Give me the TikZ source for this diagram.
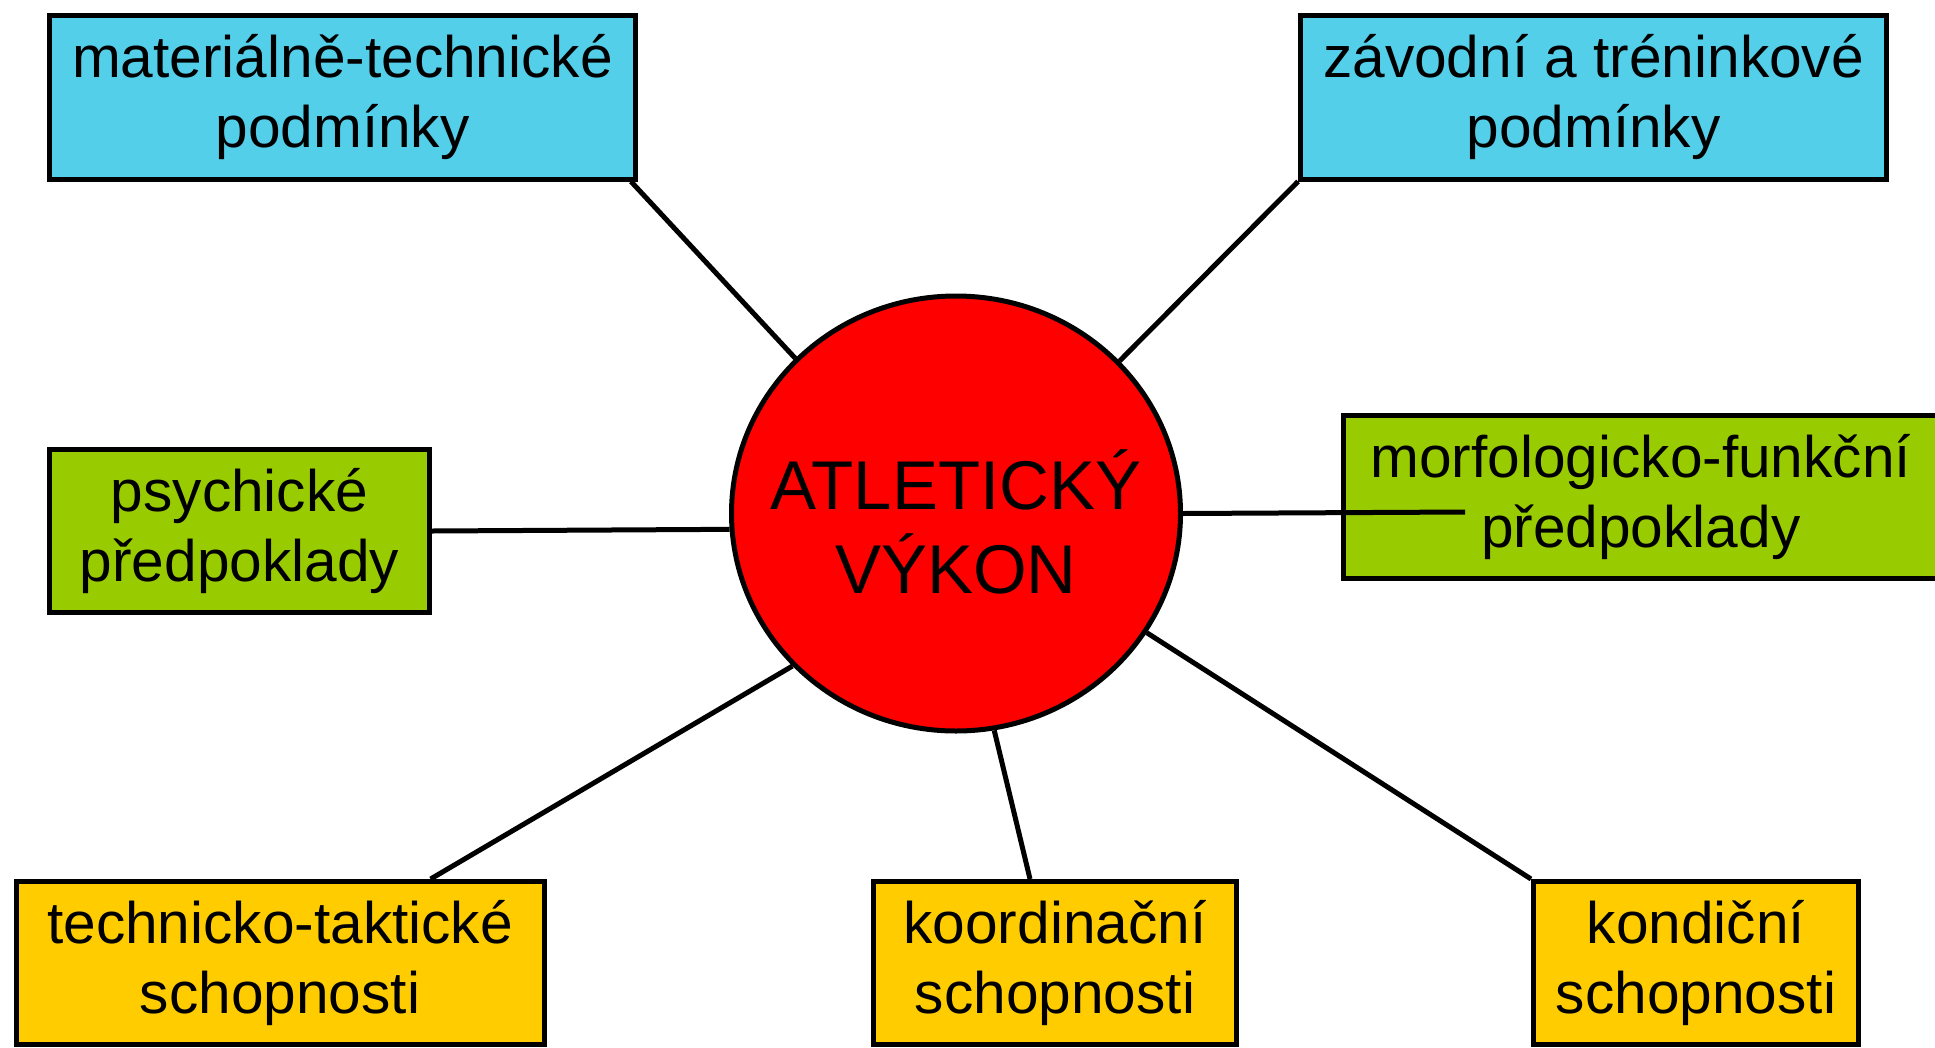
\documentclass[tikz,border=0pt]{standalone}
\usepackage{fontspec}
\setmainfont{Liberation Sans}
\usetikzlibrary{shapes.geometric,calc}
\definecolor{boxcyan}{RGB}{83,207,233}
\definecolor{boxgreen}{RGB}{153,204,0}
\definecolor{boxyellow}{RGB}{255,204,0}
\definecolor{coreRed}{RGB}{255,0,0}
\begin{document}
\begin{tikzpicture}[x=1pt,y=-1pt,
  factor/.style={draw=black, line width=5pt, rectangle, inner sep=0pt, align=center,
    font=\fontsize{58.6}{70}\selectfont},
  link/.style={draw=black, line width=5pt},
  core/.style={ellipse, draw=black, line width=5pt, fill=coreRed,
    minimum width=449pt, minimum height=435pt, inner sep=0pt}]
\useasboundingbox (0,0) rectangle (1935,1047);
\fill[white] (0,0) rectangle (1935,1047);

\node[core] (c) at (956,513.5) {};
\node[font=\fontsize{69}{84}\selectfont, align=center] (ct) at (956,522) {ATLETICKÝ\\VÝKON};

\node[factor, fill=boxcyan, minimum width=586pt, minimum height=164pt] (mt) at (342.5,97) {materiálně-technické\\podmínky};
\node[factor, fill=boxcyan, minimum width=586pt, minimum height=164pt] (zt) at (1593.5,97) {závodní a tréninkové\\podmínky};
\node[factor, fill=boxgreen, minimum width=380pt, minimum height=163pt] (ps) at (239.5,531) {psychické\\předpoklady};
\node[factor, fill=boxgreen, minimum width=594pt, minimum height=163pt] (mf) at (1640.75,497) {morfologicko-funkční\\předpoklady};
\node[factor, fill=boxyellow, minimum width=528pt, minimum height=163pt] (tt) at (280,963) {technicko-taktické\\schopnosti};
\node[factor, fill=boxyellow, minimum width=363pt, minimum height=163pt] (ko) at (1055,963) {koordinační\\schopnosti};
\node[factor, fill=boxyellow, minimum width=325pt, minimum height=163pt] (kd) at (1696,963) {kondiční\\schopnosti};

\coordinate (mfend) at (1465,512);

\draw[link] ($(mt.south east)+(-7,0)$) -- (c.136.6);
\draw[link] (zt.south west) -- (c.43.9);
\draw[link] (ps.east) -- (c.184);
\draw[link] (c.0.4) -- (mfend);
\draw[link] ($(tt.north)+(150.6,0)$) -- (c.223);
\draw[link] ($(ko.north)+(-25,0)$) -- (c.280.7);
\draw[link] (kd.north west) -- (c.328.8);
\end{tikzpicture}
\end{document}
